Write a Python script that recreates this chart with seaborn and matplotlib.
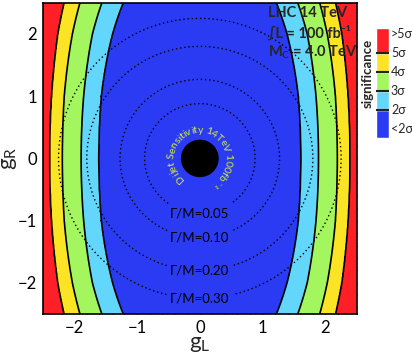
import numpy as np
import matplotlib
matplotlib.use("Agg")
import matplotlib.pyplot as plt
from matplotlib.patches import Circle
from matplotlib.ticker import MultipleLocator
from matplotlib import font_manager
from matplotlib.ft2font import FT2Font
import seaborn as sns

# boundaries of the significance bands, |gL| read at a few gR values
gr_nodes = [0.0, 1.0, 2.0, 2.5]
bound_2sig = [1.61, 1.57, 1.39, 1.22]
bound_3sig = [1.89, 1.85, 1.71, 1.56]
bound_4sig = [2.19, 2.16, 2.03, 1.91]
bound_5sig = [2.39, 2.36, 2.26, 2.16]

sig_levels = [2, 3, 4, 5]
sig_colors = ["#2a3bf3", "#63d6fb", "#a3f65d", "#fbe423", "#ff1f26"]
cbar_labels = ["<2σ", "2σ", "3σ", "4σ", "5σ", ">5σ"]

# width contours (dotted circles)
width_over_mass = [0.05, 0.10, 0.20, 0.30]
width_radius = [0.88, 1.27, 1.80, 2.25]

info_lines = ["LHC 14 TeV", "∫L = 100 fb⁻¹", r"M$_{\mathregular{C}}$ = 4.0 TeV"]
ring_text = "Dijet Sensitivity 14TeV 100fb⁻¹"
dijet_radius = 0.29

sns.set_style("ticks")
plt.rcParams["font.family"] = ["Lato", "DejaVu Sans"]
plt.rcParams["mathtext.fontset"] = "custom"
plt.rcParams["mathtext.rm"] = "Lato"
plt.rcParams["axes.unicode_minus"] = True


def significance_field(gl, gr):
    nodes2 = np.array(gr_nodes) ** 2
    rows = []
    for r in gr:
        b = [np.sqrt(np.interp(r * r, nodes2, np.array(bb) ** 2))
             for bb in (bound_2sig, bound_3sig, bound_4sig, bound_5sig)]
        rows.append(np.interp(np.abs(gl), [0.0] + b + [3.0], [0.0] + sig_levels + [6.0]))
    return np.array(rows)


def draw_ring(ax, text, radius, start_deg, end_deg, fs, color):
    path = font_manager.findfont(font_manager.FontProperties(family="Lato"))
    fallback = font_manager.findfont(font_manager.FontProperties(family="DejaVu Sans"))
    adv = []
    for ch in text:
        f = FT2Font(path)
        if f.get_char_index(ord(ch)) == 0:
            f = FT2Font(fallback)
        f.set_size(fs, 72)
        g = f.load_char(ord(ch))
        adv.append(g.linearHoriAdvance / 65536.0)
    adv = np.array(adv)
    mids = np.cumsum(adv) - adv / 2
    frac = mids / adv.sum()
    angles = start_deg + (end_deg - start_deg) * frac
    for ch, a in zip(text, angles):
        t = np.deg2rad(a)
        ax.text(radius * np.cos(t), radius * np.sin(t), ch, fontsize=fs,
                color=color, rotation=a - 90, rotation_mode="anchor",
                ha="center", va="center", zorder=6)


def main():
    fig = plt.figure(figsize=(4.12, 3.54), dpi=100)
    ax = fig.add_axes([0.104, 0.113, 0.762, 0.879])

    gl = np.linspace(-2.5, 2.5, 501)
    gr = np.linspace(-2.5, 2.5, 501)
    GL, GR = np.meshgrid(gl, gr)
    sig = significance_field(gl, gr)

    ax.contourf(GL, GR, sig, levels=[-1] + sig_levels + [7], colors=sig_colors)
    ax.contour(GL, GR, sig, levels=sig_levels, colors="k", linewidths=1.2)

    R = np.hypot(GL, GR)
    cs = ax.contour(GL, GR, R, levels=width_radius, colors="k",
                    linewidths=1.0, linestyles=[(0, (1, 2))])
    fmt = {r: "Γ/M=%.2f" % w for r, w in zip(width_radius, width_over_mass)}
    ax.clabel(cs, fmt=fmt, manual=[(0, -r) for r in width_radius],
              inline=True, inline_spacing=4, fontsize=9.5)

    ax.add_patch(Circle((0, 0), dijet_radius, color="k", zorder=5))
    draw_ring(ax, ring_text, 0.45, 232, -62, 7.5, "#d2ec3c")

    ax.set_xlim(-2.5, 2.5)
    ax.set_ylim(-2.5, 2.5)
    ax.set_xticks([-2, -1, 0, 1, 2])
    ax.set_yticks([-2, -1, 0, 1, 2])
    ax.xaxis.set_minor_locator(MultipleLocator(0.2))
    ax.yaxis.set_minor_locator(MultipleLocator(0.2))
    ax.tick_params(which="both", direction="in", top=True, right=True,
                   colors="k", labelsize=12)
    ax.tick_params(which="major", length=5, width=1, pad=4)
    ax.tick_params(which="minor", length=2.5, width=0.8)
    for sp in ax.spines.values():
        sp.set_color("k")
        sp.set_linewidth(1.2)
    ax.set_xlabel(r"g$_{\mathregular{L}}$", fontsize=16)
    ax.set_ylabel(r"g$_{\mathregular{R}}$", fontsize=16)
    ax.xaxis.set_label_coords(0.5, -0.065)
    ax.yaxis.set_label_coords(-0.075, 0.5)

    for i, line in enumerate(info_lines):
        ax.text(0.717, 0.968 - 0.063 * i, line, transform=ax.transAxes,
                fontsize=10.5, fontweight="bold", ha="left", va="center", zorder=7)

    # colour bar
    cax = fig.add_axes([0.913, 0.610, 0.032, 0.311])
    edges = [0.55, 2, 3, 4, 5, 6.3]
    for i, c in enumerate(sig_colors):
        cax.bar(0, edges[i + 1] - edges[i], bottom=edges[i], width=1, color=c)
    for lv in sig_levels:
        cax.plot([-0.5, 0.5], [lv, lv], color="#222222", lw=1.5)
    cax.set_xlim(-0.5, 0.5)
    cax.set_ylim(edges[0], edges[-1])
    cax.axis("off")
    label_pos = [1.0, 2, 3, 4, 5, 6.0]
    for y, lab in zip(label_pos, cbar_labels):
        cax.text(0.62, y, lab, fontsize=9, ha="left", va="center")
    cax.text(-1.15, 3.9, "significance", rotation=90, fontsize=9.5,
             fontweight="bold", ha="center", va="center")

    fig.savefig("out.png", dpi=100)


if __name__ == "__main__":
    main()
